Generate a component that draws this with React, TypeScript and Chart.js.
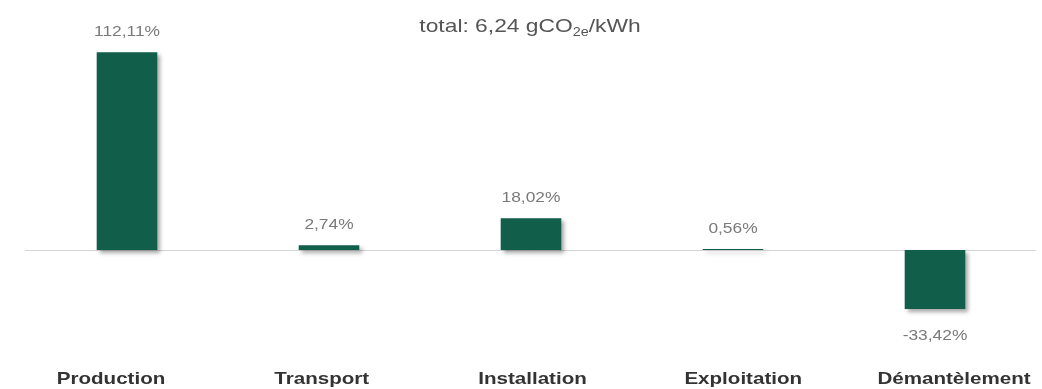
import React, { useEffect, useRef } from "react";
import { Chart, registerables } from "chart.js";

Chart.register(...registerables);

const categories = ["Production", "Transport", "Installation", "Exploitation", "Démantèlement"];
const values = [112.11, 2.74, 18.02, 0.56, -33.42];
const valueLabels = ["112,11%", "2,74%", "18,02%", "0,56%", "-33,42%"];
const titleMain = "total: 6,24 gCO";
const titleSub = "2e";
const titleEnd = "/kWh";

const BAR_COLOR = "#115e4b";
const SX = 1.21;

function stretchedText(ctx: any, text: string, x: number, y: number, sx: number) {
  ctx.save();
  ctx.translate(x, y);
  ctx.scale(sx, 1);
  ctx.fillText(text, 0, 0);
  ctx.restore();
}

const overlayPlugin = {
  id: "overlay",
  beforeDatasetsDraw(chart: any) {
    const ctx = chart.ctx;
    const y0 = chart.scales.y.getPixelForValue(0);
    ctx.save();
    ctx.strokeStyle = "#d4d4d4";
    ctx.lineWidth = 1;
    ctx.beginPath();
    ctx.moveTo(25, Math.round(y0) + 0.5);
    ctx.lineTo(1036, Math.round(y0) + 0.5);
    ctx.stroke();
    ctx.restore();
    ctx.save();
    ctx.shadowColor = "rgba(0,0,0,0.35)";
    ctx.shadowBlur = 4;
    ctx.shadowOffsetX = 3;
    ctx.shadowOffsetY = 3;
  },
  afterDatasetsDraw(chart: any) {
    const ctx = chart.ctx;
    ctx.restore();
    const meta = chart.getDatasetMeta(0);
    const area = chart.chartArea;
    ctx.save();
    ctx.textAlign = "center";
    ctx.textBaseline = "alphabetic";
    // value labels
    ctx.font = "14px 'Liberation Sans', Arial, sans-serif";
    ctx.fillStyle = "#7a7a7a";
    meta.data.forEach((bar: any, i: number) => {
      const v = values[i];
      if (v >= 0) {
        stretchedText(ctx, valueLabels[i], bar.x, bar.y - 16, 1.24);
      } else {
        stretchedText(ctx, valueLabels[i], bar.x, bar.y + 31, 1.24);
      }
    });
    // category labels: evenly spread across the plot, slightly wider than bar spacing
    ctx.font = "bold 17px 'Liberation Sans', Arial, sans-serif";
    ctx.fillStyle = "#333333";
    const first = area.left + 85;
    const last = area.right - 82;
    const n = categories.length;
    categories.forEach((c, i) => {
      const x = first + ((last - first) * i) / (n - 1);
      stretchedText(ctx, c, x, 384, SX);
    });
    // title with subscript
    const fMain = "19px 'Liberation Sans', Arial, sans-serif";
    const fSub = "12px 'Liberation Sans', Arial, sans-serif";
    ctx.font = fMain;
    const w1 = ctx.measureText(titleMain).width * 1.2;
    const w3 = ctx.measureText(titleEnd).width * 1.2;
    ctx.font = fSub;
    const w2 = ctx.measureText(titleSub).width * 1.2;
    const total = w1 + w2 + w3;
    let x = 530 - total / 2;
    const ty = 32;
    ctx.textAlign = "left";
    ctx.fillStyle = "#555555";
    ctx.font = fMain;
    stretchedText(ctx, titleMain, x, ty, 1.2);
    x += w1;
    ctx.font = fSub;
    stretchedText(ctx, titleSub, x, ty + 4, 1.2);
    x += w2;
    ctx.font = fMain;
    stretchedText(ctx, titleEnd, x, ty, 1.2);
    ctx.restore();
  },
};

export default function App() {
  const ref = useRef<HTMLCanvasElement>(null);
  useEffect(() => {
    if (!ref.current) return;
    const chart = new Chart(ref.current, {
      type: "bar",
      data: {
        labels: categories,
        datasets: [
          {
            data: values,
            backgroundColor: BAR_COLOR,
            borderWidth: 0,
            categoryPercentage: 1,
            barPercentage: 0.3,
          },
        ],
      },
      options: {
        responsive: false,
        animation: false,
        events: [],
        layout: { padding: { left: 26, right: 6, top: 40, bottom: 49 } },
        plugins: { legend: { display: false }, tooltip: { enabled: false }, title: { display: false } },
        scales: {
          x: { display: false },
          y: { display: false, min: -51, max: 119 },
        },
      },
      plugins: [overlayPlugin],
    });
    return () => chart.destroy();
  }, []);
  return (
    <div style={{ position: "fixed", left: 0, top: 0, width: 1042, height: 389, background: "#fff" }}>
      <canvas ref={ref} width={1042} height={389} style={{ width: 1042, height: 389 }} />
    </div>
  );
}
